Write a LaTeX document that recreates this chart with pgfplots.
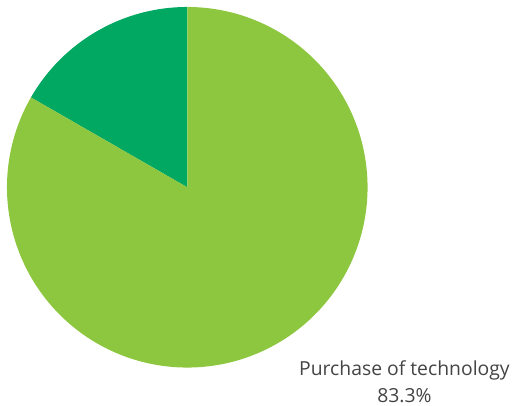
\documentclass[border=0pt]{standalone}
\usepackage{pgfplots}
\pgfplotsset{compat=1.18}
\usepackage{fontspec}
\setmainfont{Open Sans}
\definecolor{lightg}{HTML}{8DC63F}
\definecolor{darkg}{HTML}{00A862}
\definecolor{txt}{HTML}{444444}
% shares (percent)
\def\shareTech{83.3}
\def\shareOther{16.7}
\begin{document}
\begin{tikzpicture}
\begin{axis}[
  width=513bp, height=407bp, scale only axis,
  xmin=0, xmax=513, ymin=0, ymax=407,
  hide axis, clip=false,
]
\pgfmathsetmacro{\aStart}{90}
\pgfmathsetmacro{\aMid}{90+3.6*\shareOther}
\pgfmathsetmacro{\aEnd}{\aMid+3.6*\shareTech}
\addplot[fill=darkg, draw=none, domain=\aStart:\aMid, samples=80]
  ({188+181*cos(x)},{219+181*sin(x)}) -- (axis cs:188,219) -- cycle;
\addplot[fill=lightg, draw=none, domain=\aMid:\aEnd, samples=300]
  ({188+181*cos(x)},{219+181*sin(x)}) -- (axis cs:188,219) -- cycle;
\node[text=txt, font=\fontsize{19.5}{27}\selectfont, align=center, anchor=center]
  at (axis cs:406,24) {Purchase of technology\\\shareTech\%};
\path (axis cs:0,0) (axis cs:513,407);
\end{axis}
\end{tikzpicture}
\end{document}
